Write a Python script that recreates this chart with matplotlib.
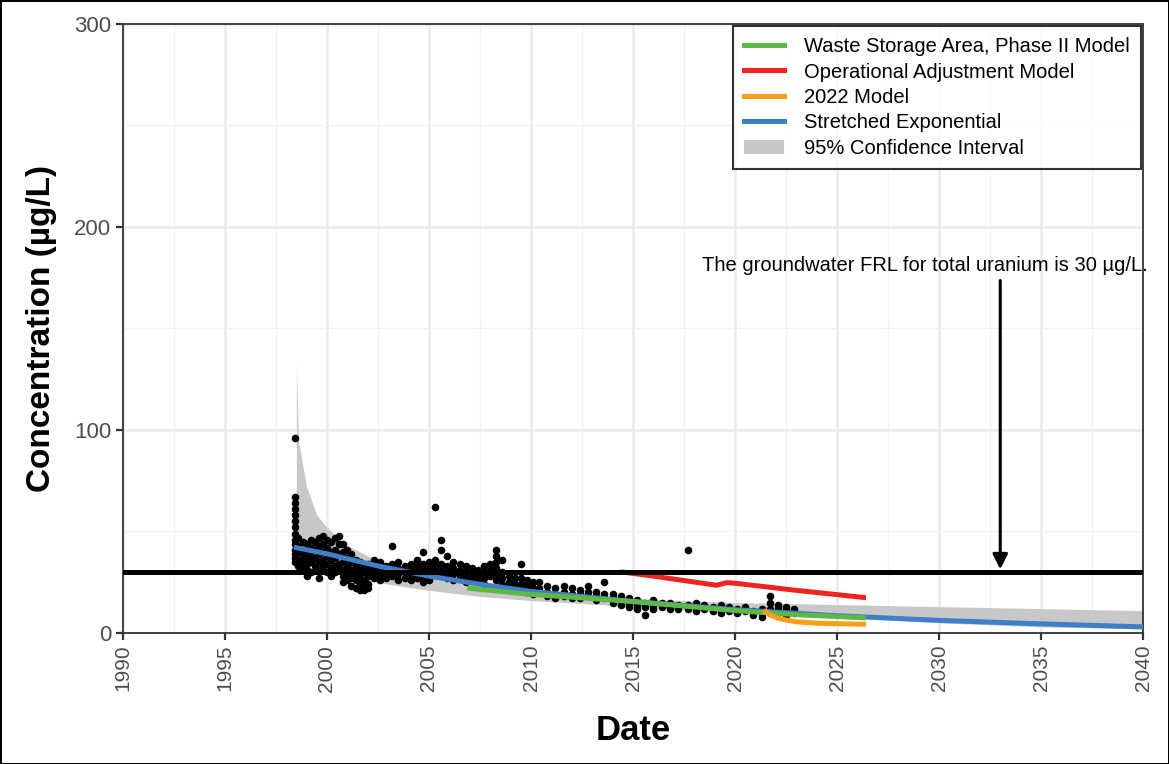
import numpy as np
import matplotlib.pyplot as plt
from matplotlib.patches import Patch
from matplotlib.lines import Line2D

plt.rcParams["font.family"] = ["Liberation Sans", "DejaVu Sans"]

obs_year = [
    1998.45, 1998.45, 1998.45, 1998.45, 1998.45, 1998.45, 1998.45, 1998.45, 1998.45,
    1998.45, 1998.45, 1998.45, 1998.45, 1998.45,
    1998.6, 1998.6, 1998.6, 1998.6, 1998.6,
    1998.8, 1998.8, 1998.8, 1998.8, 1998.8,
    1999.0, 1999.0, 1999.0, 1999.0, 1999.0, 1999.0,
    1999.2, 1999.2, 1999.2, 1999.2, 1999.2,
    1999.4, 1999.4, 1999.4, 1999.4,
    1999.6, 1999.6, 1999.6, 1999.6, 1999.6, 1999.6,
    1999.8, 1999.8, 1999.8, 1999.8, 1999.8,
    2000.0, 2000.0, 2000.0, 2000.0, 2000.0,
    2000.2, 2000.2, 2000.2, 2000.2, 2000.2,
    2000.4, 2000.4, 2000.4, 2000.4, 2000.4,
    2000.6, 2000.6, 2000.6, 2000.6, 2000.6,
    2000.8, 2000.8, 2000.8, 2000.8, 2000.8, 2000.8,
    2001.0, 2001.0, 2001.0, 2001.0, 2001.0,
    2001.2, 2001.2, 2001.2, 2001.2, 2001.2,
    2001.4, 2001.4, 2001.4, 2001.4, 2001.4,
    2001.6, 2001.6, 2001.6, 2001.6, 2001.6,
    2001.8, 2001.8, 2001.8, 2001.8, 2001.8,
    2002.0, 2002.0, 2002.0, 2002.0, 2002.0,
    2002.3, 2002.3, 2002.3, 2002.3,
    2002.6, 2002.6, 2002.6, 2002.6,
    2002.9, 2002.9, 2002.9,
    2003.2, 2003.2, 2003.2, 2003.2,
    2003.5, 2003.5, 2003.5, 2003.5,
    2003.8, 2003.8, 2003.8,
    2004.1, 2004.1, 2004.1, 2004.1,
    2004.4, 2004.4, 2004.4, 2004.4,
    2004.7, 2004.7, 2004.7, 2004.7, 2004.7,
    2005.0, 2005.0, 2005.0, 2005.0,
    2005.3, 2005.3, 2005.3, 2005.3,
    2005.6, 2005.6, 2005.6, 2005.6, 2005.6,
    2005.9, 2005.9, 2005.9, 2005.9,
    2006.2, 2006.2, 2006.2, 2006.2,
    2006.5, 2006.5, 2006.5,
    2006.8, 2006.8, 2006.8, 2006.8,
    2007.1, 2007.1, 2007.1,
    2007.4, 2007.4, 2007.4,
    2007.7, 2007.7, 2007.7, 2007.7,
    2008.0, 2008.0, 2008.0,
    2008.3, 2008.3, 2008.3, 2008.3, 2008.3, 2008.3,
    2008.6, 2008.6, 2008.6, 2008.6,
    2008.9, 2008.9, 2008.9,
    2009.2, 2009.2, 2009.2,
    2009.5, 2009.5, 2009.5, 2009.5,
    2009.8, 2009.8, 2009.8,
    2010.1, 2010.1, 2010.1,
    2010.4, 2010.4, 2010.4,
    2010.8, 2010.8, 2010.8,
    2011.2, 2011.2, 2011.2,
    2011.6, 2011.6, 2011.6,
    2012.0, 2012.0, 2012.0,
    2012.4, 2012.4, 2012.4,
    2012.8, 2012.8, 2012.8,
    2013.2, 2013.2, 2013.2,
    2013.6, 2013.6, 2013.6,
    2014.0, 2014.0, 2014.0,
    2014.4, 2014.4, 2014.4,
    2014.8, 2014.8, 2014.8,
    2015.2, 2015.2, 2015.2,
    2015.6, 2015.6, 2015.6,
    2016.0, 2016.0, 2016.0,
    2016.4, 2016.4,
    2016.8, 2016.8, 2016.8,
    2017.2, 2017.2,
    2017.7, 2017.7, 2017.7,
    2018.1, 2018.1, 2018.1,
    2018.5, 2018.5,
    2018.9, 2018.9,
    2019.3, 2019.3, 2019.3,
    2019.7, 2019.7,
    2020.1, 2020.1,
    2020.5, 2020.5,
    2020.9, 2020.9,
    2021.3, 2021.3, 2021.3,
    2021.7, 2021.7, 2021.7, 2021.7,
    2022.1, 2022.1, 2022.1,
    2022.5, 2022.5, 2022.5,
    2022.9, 2022.9,
]
obs_conc = [
    96, 67, 64, 61, 58, 55, 52, 49, 46, 44, 41, 39, 37, 35,
    47, 43, 40, 36, 33,
    45, 41, 38, 35, 32,
    44, 40, 37, 34, 31, 28,
    46, 42, 38, 35, 30,
    45, 41, 37, 33,
    47, 43, 39, 35, 31, 27,
    48, 44, 40, 36, 33,
    46, 42, 38, 34, 30,
    45, 40, 36, 32, 28,
    47, 41, 37, 33, 30,
    48, 44, 39, 34, 31,
    44, 40, 35, 31, 28, 25,
    41, 37, 33, 29, 26,
    39, 35, 31, 27, 23,
    36, 33, 29, 26, 22,
    35, 31, 27, 24, 21,
    33, 30, 26, 23, 21,
    34, 31, 28, 24, 22,
    36, 32, 29, 27,
    35, 31, 28, 26,
    33, 30, 27,
    43, 34, 31, 28,
    35, 32, 29, 26,
    33, 30, 27,
    34, 31, 29, 26,
    36, 33, 30, 27,
    40, 34, 31, 28, 25,
    35, 32, 29, 26,
    62, 36, 33, 30,
    46, 41, 34, 31, 28,
    38, 33, 30, 27,
    35, 32, 29, 26,
    34, 31, 28,
    33, 30, 27, 25,
    32, 29, 27,
    31, 28, 26,
    33, 30, 27, 24,
    34, 31, 28,
    41, 38, 35, 32, 29, 26,
    36, 30, 27, 24,
    28, 25, 23,
    27, 24, 22,
    34, 27, 24, 21,
    26, 23, 20,
    25, 22, 19,
    25, 22, 20,
    23, 20, 18,
    22, 19, 17,
    23, 20, 18,
    22, 19, 17,
    21, 19, 17,
    23, 20, 18,
    20, 18, 16,
    25, 19, 17,
    19, 17, 15,
    18, 16, 14,
    17, 15, 13,
    16, 14, 12,
    15, 13, 9,
    16, 14, 12,
    15, 13,
    15, 13, 12,
    14, 12,
    41, 14, 12,
    15, 13, 11,
    14, 12,
    13, 11,
    14, 12, 10,
    13, 11,
    12, 10,
    13, 11,
    11, 9,
    12, 10, 8,
    18, 15, 12, 10,
    14, 12, 10,
    13, 11, 9,
    12, 10,
]

# stretched exponential fit and 95% confidence band
fit_year = [1998.5, 2000, 2002.5, 2005, 2007.5, 2010, 2012.5, 2015, 2017.5,
            2020, 2022.5, 2025, 2030, 2035, 2040]
fit_conc = [42, 39, 33, 28, 24, 20.5, 18, 15.5, 13.5, 11.5, 10, 8.5, 6.2, 4.5, 3]

ci_year = [1998.5, 1998.6, 1999, 1999.5, 2000, 2001, 2002, 2003, 2005, 2007.5,
           2010, 2015, 2020, 2025, 2030, 2035, 2040]
ci_upper = [133, 95, 72, 58, 52, 43, 38, 34, 29, 25, 21, 17, 15, 14, 13, 12, 11]
ci_lower = [35, 35, 34, 33, 32, 29, 26, 24, 21, 18, 16, 13, 10, 8, 5, 3, 2]

wsa_year = [2007, 2010, 2015, 2020, 2023, 2026.3]
wsa_conc = [22, 19, 15.5, 11, 9, 7.5]

oam_year = [2014.5, 2016, 2019.1, 2019.6, 2020, 2023, 2026.3]
oam_conc = [30, 28, 23.5, 24.8, 24.5, 21, 17.5]

m2022_year = [2021.5, 2021.8, 2022.2, 2023, 2024, 2026.3]
m2022_conc = [10.5, 8.5, 7, 5.5, 4.8, 4.3]

frl = 30
arrow_x = 2033
arrow_top = 175

fig = plt.figure(figsize=(11.69, 7.64), dpi=100)
fig.patch.set_edgecolor("black")
fig.patch.set_linewidth(2)
ax = fig.add_axes([0.1052, 0.1715, 0.8726, 0.7971])

ax.fill_between(ci_year, ci_lower, ci_upper, color="#C8C8C8", lw=0, zorder=2)
ax.scatter(obs_year, obs_conc, s=30, color="black", lw=0, zorder=3)
ax.plot(fit_year, fit_conc, color="#3F7FC7", lw=3.6, zorder=4)
ax.plot(wsa_year, wsa_conc, color="#5DB848", lw=3.6, zorder=5)
ax.plot(oam_year, oam_conc, color="#EE2424", lw=3.6, zorder=5)
ax.plot(m2022_year, m2022_conc, color="#F6A01A", lw=3.6, zorder=5)
ax.axhline(frl, color="black", lw=3.6, zorder=6)

ax.annotate("", xy=(arrow_x, frl), xytext=(arrow_x, arrow_top),
            arrowprops=dict(arrowstyle="-|>,head_length=0.9,head_width=0.45",
                            color="black", lw=2.2), zorder=7)
ax.text(2029.3, 181, "The groundwater FRL for total uranium is 30 \u00b5g/L.",
        ha="center", va="center", fontsize=14.5, clip_on=False, zorder=7)

ax.set_xlim(1990, 2040)
ax.set_ylim(0, 300)
ax.set_xticks(np.arange(1990, 2041, 5))
ax.set_xticks(np.arange(1992.5, 2040, 5), minor=True)
ax.set_yticks([0, 100, 200, 300])
ax.set_yticks([50, 150, 250], minor=True)
ax.grid(which="major", color="#EBEBEB", lw=1.8, zorder=0)
ax.grid(which="minor", color="#F2F2F2", lw=0.9, zorder=0)
ax.set_axisbelow(True)
for s in ax.spines.values():
    s.set_color("#333333")
    s.set_linewidth(1.3)
ax.tick_params(which="major", length=5, width=1.6, color="#333333",
               labelcolor="#4D4D4D")
ax.tick_params(axis="y", labelsize=16)
ax.tick_params(axis="x", labelsize=15, labelrotation=90)
ax.tick_params(which="minor", length=0)

ax.set_xlabel("Date", fontsize=25, fontweight="bold", labelpad=16)
ax.set_ylabel("Concentration (\u00b5g/L)", fontsize=24, fontweight="bold", labelpad=12)

handles = [
    Line2D([], [], color="#5DB848", lw=3.6),
    Line2D([], [], color="#EE2424", lw=3.6),
    Line2D([], [], color="#F6A01A", lw=3.6),
    Line2D([], [], color="#3F7FC7", lw=3.6),
    Patch(facecolor="#C8C8C8", edgecolor="none"),
]
labels = ["Waste Storage Area, Phase II Model", "Operational Adjustment Model",
          "2022 Model", "Stretched Exponential", "95% Confidence Interval"]
leg = ax.legend(handles, labels, loc="upper right", bbox_to_anchor=(1.0, 1.0),
                borderaxespad=0.1, fontsize=14.5, frameon=True, fancybox=False,
                handlelength=2.0, handletextpad=1.0, labelspacing=0.32,
                borderpad=0.55)
leg.get_frame().set_edgecolor("black")
leg.get_frame().set_linewidth(1.5)
leg.set_zorder(10)

fig.savefig("out.png", dpi=100)
